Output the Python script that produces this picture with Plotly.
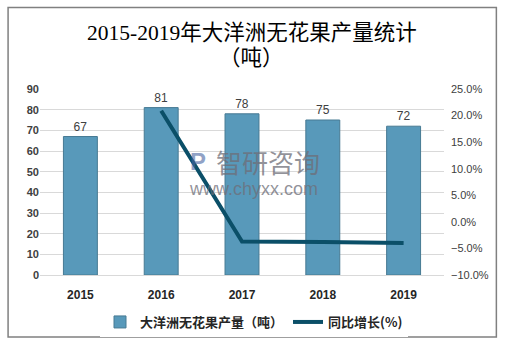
import plotly.graph_objects as go

years = ["2015", "2016", "2017", "2018", "2019"]
production = [67, 81, 78, 75, 72]
growth = [None, 20.9, -3.7, -3.8, -4.0]

W, H = 508, 348
L, R, T, B = 39.5, 63.5, 89, 73
pw, ph = W - L - R, H - T - B

def px_x(x):
    return (x - L) / pw

def px_y(y):
    return (H - B - y) / ph

fig = go.Figure()
fig.add_trace(go.Bar(
    x=years, y=production, name="<b>大洋洲无花果产量（吨）</b>",
    marker=dict(color="#5899ba", line=dict(color="#477a93", width=1)),
    text=[str(v) for v in production], textposition="outside",
    textfont=dict(size=12, color="#404040", family="Liberation Sans, Arial"),
    cliponaxis=False,
))
fig.add_trace(go.Scatter(
    x=years, y=growth, name="<b>同比增长(%)</b>", yaxis="y2", mode="lines",
    line=dict(color="#0b4f68", width=4),
))

fig.update_layout(
    width=W, height=H,
    margin=dict(l=L, r=R, t=T, b=B, autoexpand=False),
    paper_bgcolor="white", plot_bgcolor="white",
    bargap=0.58,
    showlegend=True,
    legend=dict(
        orientation="h", x=0.5, xanchor="center", xref="container",
        y=1 - 322 / H, yanchor="middle", yref="container",
        font=dict(size=13, color="#262626", family="Noto Sans CJK SC"),
        itemwidth=30, traceorder="normal",
    ),
    xaxis=dict(
        type="category", showgrid=False, showline=True, linecolor="#d9d9d9",
        ticks="", tickfont=dict(size=12, color="#262626", family="Liberation Sans, Arial"),
        ticklabelstandoff=9, tickprefix="<b>", ticksuffix="</b>",
    ),
    yaxis=dict(
        range=[0, 90], dtick=10, showgrid=True, gridcolor="#d9d9d9", gridwidth=1,
        zeroline=False, ticks="",
        tickfont=dict(size=11, color="#404040", family="Liberation Sans, Arial"),
        tickprefix="<b>", ticksuffix="</b>",
    ),
    yaxis2=dict(
        overlaying="y", side="right", range=[-10, 25], dtick=5,
        tickformat=".1f", ticksuffix="%", showgrid=False, zeroline=False,
        tickfont=dict(size=11, color="#404040", family="Liberation Sans, Arial"),
        ticklabelstandoff=6,
    ),
    font=dict(family="Liberation Sans, Noto Sans CJK SC"),
)

def note(text, x, y, font):
    fig.add_annotation(text=text, xref="paper", yref="paper", x=px_x(x), y=px_y(y),
                       xanchor="center", yanchor="middle", showarrow=False, font=font)

# title (two lines)
title_font = dict(size=21.5, color="#000000", family="Liberation Serif, Noto Sans CJK SC")
note("2015-2019年大洋洲无花果产量统计", 252, 33, title_font)
note("（吨）", 252, 58, title_font)

# outer border
fig.add_shape(type="rect", xref="paper", yref="paper",
              x0=px_x(7.5), x1=px_x(497), y0=px_y(337), y1=px_y(7.5),
              line=dict(color="#808080", width=1.5), fillcolor="rgba(0,0,0,0)", layer="above")

# watermark
wm = "rgba(110,110,120,0.75)"
note("智研咨询", 268, 161, dict(size=26, color=wm, family="Noto Sans CJK SC"))
note("www.chyxx.com", 254, 189, dict(size=18, color=wm, family="Liberation Sans, Arial"))
note("<b>P</b>", 198, 161, dict(size=24, color="rgba(70,100,160,0.6)", family="Liberation Sans, Arial"))

fig.write_html("out.html")
